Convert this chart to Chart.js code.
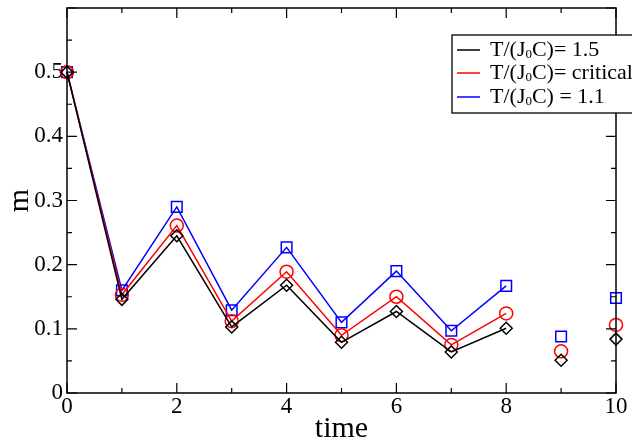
<!DOCTYPE html>
<html>
<head>
<meta charset="utf-8">
<script src="https://cdn.jsdelivr.net/npm/chart.js@4"></script>
<style>
  html, body { margin: 0; padding: 0; background: #fff; }
  #wrap { width: 632px; height: 447px; }
</style>
</head>
<body>
<div id="wrap"><canvas id="myChart" width="632" height="447"></canvas></div>
<script>
// values
const times = [0, 1, 2, 3, 4, 5, 6, 7, 8, 9, 10];
const m15 = [0.5, 0.146, 0.245, 0.103, 0.168, 0.079, 0.127, 0.064, 0.101, 0.051, 0.084];
const mCrit = [0.5, 0.153, 0.261, 0.112, 0.189, 0.090, 0.150, 0.075, 0.124, 0.065, 0.106];
const m11 = [0.5, 0.160, 0.290, 0.129, 0.227, 0.110, 0.190, 0.097, 0.167, 0.088, 0.148];
const seriesLabels = ['T/(J₀C)= 1.5', 'T/(J₀C)= critical', 'T/(J₀C) = 1.1'];
const xTicks = [0, 2, 4, 6, 8, 10];
const yTicks = [0, 0.1, 0.2, 0.3, 0.4, 0.5];
const lastJoined = 8; // lines stop after t = 8

const serif = "'Liberation Serif', 'DejaVu Serif', serif";

function pts(vals) {
    return times.map((t, i) => ({ x: t, y: vals[i] }));
}

function makeSet(label, vals, color, style, radius) {
    return {
        label: label,
        data: pts(vals),
        borderColor: color,
        backgroundColor: 'transparent',
        borderWidth: 1.5,
        pointStyle: style,
        pointRadius: radius,
        pointBorderWidth: 1.5,
        pointBorderColor: color,
        pointBackgroundColor: 'transparent',
        tension: 0,
        clip: false,
        segment: {
            borderColor: c => c.p0DataIndex >= lastJoined ? 'transparent' : color
        }
    };
}

// inward ticks, frame and the boxed legend
const xmgrFrame = {
    id: 'xmgrFrame',
    afterDraw(chart) {
        const ctx = chart.ctx;
        const a = chart.chartArea;
        const xs = chart.scales.x, ys = chart.scales.y;
        ctx.save();
        ctx.strokeStyle = '#000';
        ctx.lineWidth = 1.5;
        ctx.strokeRect(a.left, a.top, a.right - a.left, a.bottom - a.top);
        ctx.lineWidth = 1.2;
        ctx.beginPath();
        for (let t = 0; t <= 10; t++) {
            const len = t % 2 === 0 ? 10 : 5;
            const px = xs.getPixelForValue(t);
            ctx.moveTo(px, a.bottom); ctx.lineTo(px, a.bottom - len);
            ctx.moveTo(px, a.top); ctx.lineTo(px, a.top + len);
        }
        for (let k = 0; k <= 12; k++) {
            const len = k % 2 === 0 ? 10 : 5;
            const py = ys.getPixelForValue(k * 0.05);
            ctx.moveTo(a.left, py); ctx.lineTo(a.left + len, py);
            ctx.moveTo(a.right, py); ctx.lineTo(a.right - len, py);
        }
        ctx.stroke();

        // legend box
        const bx = 452, by = 35, bh = 78;
        ctx.fillStyle = '#fff';
        ctx.fillRect(bx, by, 200, bh);
        ctx.lineWidth = 1.3;
        ctx.strokeRect(bx, by, 200, bh);
        const rowY = [50, 73, 97];
        chart.data.datasets.forEach((ds, i) => {
            const y = rowY[i];
            ctx.strokeStyle = ds.borderColor;
            ctx.lineWidth = 1.5;
            ctx.beginPath();
            ctx.moveTo(457, y); ctx.lineTo(480, y);
            ctx.stroke();
            // text with a lowered, smaller subscript 0
            const parts = ds.label.split('₀');
            ctx.fillStyle = '#000';
            ctx.textBaseline = 'middle';
            ctx.textAlign = 'left';
            let x = 490;
            ctx.font = '22px ' + serif;
            ctx.fillText(parts[0], x, y);
            x += ctx.measureText(parts[0]).width;
            ctx.font = '13px ' + serif;
            ctx.fillText('0', x, y + 5);
            x += ctx.measureText('0').width;
            ctx.font = '22px ' + serif;
            ctx.fillText(parts[1], x, y);
        });
        ctx.restore();
    }
};

const ctx = document.getElementById('myChart').getContext('2d');
const myChart = new Chart(ctx, {
    type: 'line',
    data: {
        datasets: [
            makeSet(seriesLabels[0], m15, '#000000', 'rectRot', 6),
            makeSet(seriesLabels[1], mCrit, '#ff0000', 'circle', 6.5),
            makeSet(seriesLabels[2], m11, '#0000ff', 'rect', 7.5)
        ]
    },
    options: {
        responsive: false,
        animation: false,
        layout: { autoPadding: false, padding: { top: 8, right: 16, left: 0, bottom: 0 } },
        plugins: {
            legend: { display: false },
            tooltip: { enabled: false }
        },
        scales: {
            x: {
                type: 'linear',
                min: 0,
                max: 10,
                afterFit: s => { s.height = 54; s.paddingLeft = 0; s.paddingRight = 0; },
                afterBuildTicks: s => { s.ticks = xTicks.map(v => ({ value: v })); },
                grid: { display: false, drawTicks: false },
                border: { display: false },
                ticks: {
                    color: '#000',
                    padding: 0,
                    maxRotation: 0,
                    font: { family: serif, size: 23 }
                },
                title: {
                    display: true,
                    text: 'time',
                    color: '#000',
                    padding: { top: -8, bottom: 0 },
                    font: { family: serif, size: 30 }
                }
            },
            y: {
                min: 0,
                max: 0.6,
                afterFit: s => { s.width = 67; s.paddingTop = 0; s.paddingBottom = 0; },
                afterBuildTicks: s => { s.ticks = yTicks.map(v => ({ value: v })); },
                grid: { display: false, drawTicks: false },
                border: { display: false },
                ticks: {
                    color: '#000',
                    padding: 4,
                    font: { family: serif, size: 23 },
                    callback: v => v === 0 ? '0' : v.toFixed(1)
                },
                title: {
                    display: true,
                    text: 'm',
                    color: '#000',
                    padding: { top: 2, bottom: 0 },
                    font: { family: serif, size: 30 }
                }
            }
        }
    },
    plugins: [xmgrFrame]
});
</script>
</body>
</html>
